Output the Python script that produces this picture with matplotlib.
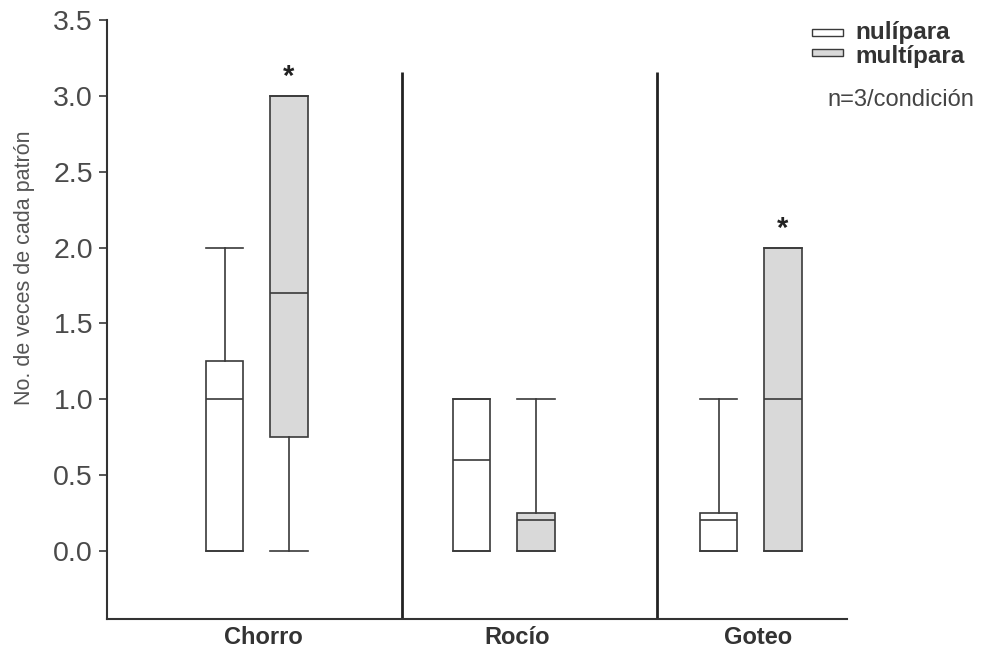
import matplotlib.pyplot as plt
from matplotlib.patches import Rectangle

plt.rcParams['font.family'] = ['Liberation Sans', 'DejaVu Sans']

# Quartile summaries per watering pattern (n=3 per condition)
groups = ["Chorro", "Rocío", "Goteo"]
nul_q1 = [0.0, 0.0, 0.0]
nul_med = [1.0, 0.6, 0.2]
nul_q3 = [1.25, 1.0, 0.25]
nul_lo = [0.0, 0.0, 0.0]
nul_hi = [2.0, 1.0, 1.0]

mul_q1 = [0.75, 0.0, 0.0]
mul_med = [1.7, 0.2, 1.0]
mul_q3 = [3.0, 0.25, 2.0]
mul_lo = [0.0, 0.0, 0.0]
mul_hi = [3.0, 1.0, 2.0]

significant = [True, False, True]
yticks = [0.0, 0.5, 1.0, 1.5, 2.0, 2.5, 3.0, 3.5]

edge = "#3a3a3a"
fill_mul = "#d9d9d9"


def stats(q1, med, q3, lo, hi):
    return [dict(q1=a, med=b, q3=c, whislo=d, whishi=e, fliers=[])
            for a, b, c, d, e in zip(q1, med, q3, lo, hi)]


fig = plt.figure(figsize=(9.86, 6.49), dpi=100)
ax = fig.add_axes([0.1085, 0.0462, 0.7505, 0.9228])

pos = [0, 1, 2]
off = 0.13
w = 0.15

line = dict(color=edge, linewidth=1.2)
ax.bxp(stats(nul_q1, nul_med, nul_q3, nul_lo, nul_hi),
       positions=[p - off for p in pos], widths=w, capwidths=w,
       patch_artist=True, showfliers=False,
       boxprops=dict(facecolor="white", edgecolor=edge, linewidth=1.2),
       medianprops=line, whiskerprops=line, capprops=line)
ax.bxp(stats(mul_q1, mul_med, mul_q3, mul_lo, mul_hi),
       positions=[p + off for p in pos], widths=w, capwidths=w,
       patch_artist=True, showfliers=False,
       boxprops=dict(facecolor=fill_mul, edgecolor=edge, linewidth=1.2),
       medianprops=line, whiskerprops=line, capprops=line)

# asterisks over significant multipara boxes
for p, hi, sig in zip(pos, mul_hi, significant):
    if sig:
        ax.text(p + off, hi + 0.03, "*", ha="center", va="bottom",
                fontsize=21, fontweight="bold", color="#222222")

# separators between groups
ax.vlines([0.587, 1.62], -0.45, 3.16, color="#222222", linewidth=2)

ax.set_xlim(-0.607, 2.389)
ax.set_ylim(-0.45, 3.5)
ax.set_yticks(yticks)
ax.set_yticklabels([f"{v:.1f}" for v in yticks], fontsize=20.5, color="#4a4a4a")
ax.set_xticks([0.025, 1.055, 2.03])
ax.set_xticklabels(groups, fontsize=17, fontweight="bold", color="#333333")
ax.tick_params(axis="x", length=0, pad=5)
ax.tick_params(axis="y", length=6, width=1.2, color=edge, pad=4)
for s in ["top", "right"]:
    ax.spines[s].set_visible(False)
for s in ["left", "bottom"]:
    ax.spines[s].set_linewidth(1.5)
    ax.spines[s].set_color("#333333")

ax.set_ylabel("No. de veces de cada patrón", fontsize=15.5, color="#555555")
ax.yaxis.set_label_coords(-0.097, 0.586)

# legend keys
fig.patches.append(Rectangle((812 / 986, 1 - 36 / 649), 31 / 986, 7 / 649,
                             transform=fig.transFigure, facecolor="white",
                             edgecolor=edge, linewidth=1))
fig.patches.append(Rectangle((812 / 986, 1 - 56 / 649), 31 / 986, 7 / 649,
                             transform=fig.transFigure, facecolor=fill_mul,
                             edgecolor=edge, linewidth=1))
fig.text(855 / 986, 1 - 33 / 649, "nulípara", fontsize=17.5, fontweight="bold",
         va="center", color="#333333")
fig.text(855 / 986, 1 - 56 / 649, "multípara", fontsize=17.5, fontweight="bold",
         va="center", color="#333333")
fig.text(827 / 986, 1 - 100 / 649, "n=3/condición", fontsize=17,
         va="center", color="#444444")

fig.savefig("out.png", dpi=100)
